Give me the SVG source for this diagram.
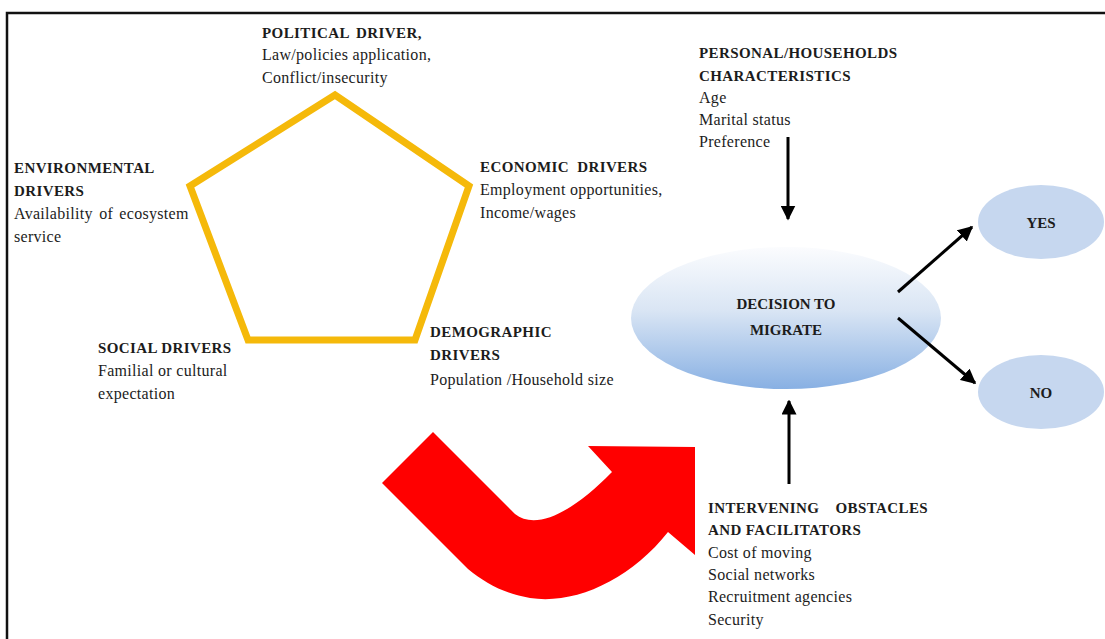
<svg xmlns="http://www.w3.org/2000/svg" width="1105" height="639" viewBox="0 0 1105 639">
  <style>
    .h { font-family: "Liberation Serif", "Times New Roman", serif; font-weight: bold; font-size: 15px; letter-spacing: 0.4px; fill: #1c1c1c; }
    .t { font-family: "Liberation Serif", "Times New Roman", serif; font-size: 16px; letter-spacing: 0.3px; fill: #1c1c1c; }
    .c { text-anchor: middle; letter-spacing: 0; }
    .conn { stroke: #000; stroke-width: 3; fill: none; }
  </style>
  <defs>
    <linearGradient id="decisionFill" x1="0" y1="0" x2="0" y2="1">
      <stop offset="0" stop-color="#fbfcfe"/>
      <stop offset="0.45" stop-color="#d9e5f4"/>
      <stop offset="1" stop-color="#88b0e3"/>
    </linearGradient>
    <marker id="head" viewBox="0 0 10 10" refX="9" refY="5" markerWidth="5" markerHeight="5" orient="auto" markerUnits="strokeWidth">
      <path d="M0,0 L10,5 L0,10 Z" fill="#000"/>
    </marker>
  </defs>

  <rect width="1105" height="639" fill="#fff"/>

  <!-- frame -->
  <path d="M7 639 V13 H1105" fill="none" stroke="#111" stroke-width="2.5"/>

  <!-- pentagon of drivers -->
  <polygon id="pentagon" points="335,95 469,186 415,340 248,340 190,186" fill="none" stroke="#f5b90a" stroke-width="7" stroke-linejoin="miter"/>

  <g id="political">
    <text class="h" x="262" y="38" word-spacing="3">POLITICAL DRIVER,</text>
    <text class="t" x="262" y="60">Law/policies application,</text>
    <text class="t" x="262" y="83">Conflict/insecurity</text>
  </g>

  <g id="environmental">
    <text class="h" x="14" y="173">ENVIRONMENTAL</text>
    <text class="h" x="14" y="196">DRIVERS</text>
    <text class="t" x="14" y="219" word-spacing="2">Availability of ecosystem</text>
    <text class="t" x="14" y="242">service</text>
  </g>

  <g id="economic">
    <text class="h" x="480" y="172" word-spacing="4">ECONOMIC DRIVERS</text>
    <text class="t" x="480" y="195">Employment opportunities,</text>
    <text class="t" x="480" y="218">Income/wages</text>
  </g>

  <g id="social">
    <text class="h" x="98" y="353">SOCIAL DRIVERS</text>
    <text class="t" x="98" y="376">Familial or cultural</text>
    <text class="t" x="98" y="399">expectation</text>
  </g>

  <g id="demographic">
    <text class="h" x="430" y="337">DEMOGRAPHIC</text>
    <text class="h" x="430" y="360">DRIVERS</text>
    <text class="t" x="430" y="385">Population /Household size</text>
  </g>

  <g id="personal">
    <text class="h" x="699" y="58">PERSONAL/HOUSEHOLDS</text>
    <text class="h" x="699" y="81">CHARACTERISTICS</text>
    <text class="t" x="699" y="103">Age</text>
    <text class="t" x="699" y="125">Marital status</text>
    <text class="t" x="699" y="147">Preference</text>
  </g>

  <g id="decision">
    <ellipse cx="786" cy="318" rx="155" ry="71" fill="url(#decisionFill)"/>
    <text class="h c" x="786" y="309" font-size="16">DECISION TO</text>
    <text class="h c" x="786" y="335" font-size="16">MIGRATE</text>
  </g>

  <g id="yes">
    <ellipse cx="1041" cy="222" rx="63" ry="37" fill="#c6d7ef"/>
    <text class="h c" x="1041" y="228">YES</text>
  </g>

  <g id="no">
    <ellipse cx="1041" cy="392" rx="63" ry="37" fill="#c6d7ef"/>
    <text class="h c" x="1041" y="398">NO</text>
  </g>

  <g id="intervening">
    <text class="h" x="708" y="513" word-spacing="12">INTERVENING OBSTACLES</text>
    <text class="h" x="708" y="535">AND FACILITATORS</text>
    <text class="t" x="708" y="558">Cost of moving</text>
    <text class="t" x="708" y="580">Social networks</text>
    <text class="t" x="708" y="602">Recruitment agencies</text>
    <text class="t" x="708" y="625">Security</text>
  </g>

  <!-- curved red arrow pointing toward the decision -->
  <path id="flow" d="M433 432 L515 514 C535 530 570 515 612 472 L588 446 L695 447 L695 555 L668 532 C630 580 575 605 530 598 C505 594 485 583 468 569 L382 483 Z" fill="#ff0000"/>

  <g id="connectors">
    <line class="conn" x1="788" y1="137" x2="788" y2="219" marker-end="url(#head)"/>
    <line class="conn" x1="789" y1="484" x2="789" y2="401" marker-end="url(#head)"/>
    <line class="conn" x1="898" y1="292" x2="972" y2="227" marker-end="url(#head)"/>
    <line class="conn" x1="898" y1="318" x2="975" y2="383" marker-end="url(#head)"/>
  </g>
</svg>
